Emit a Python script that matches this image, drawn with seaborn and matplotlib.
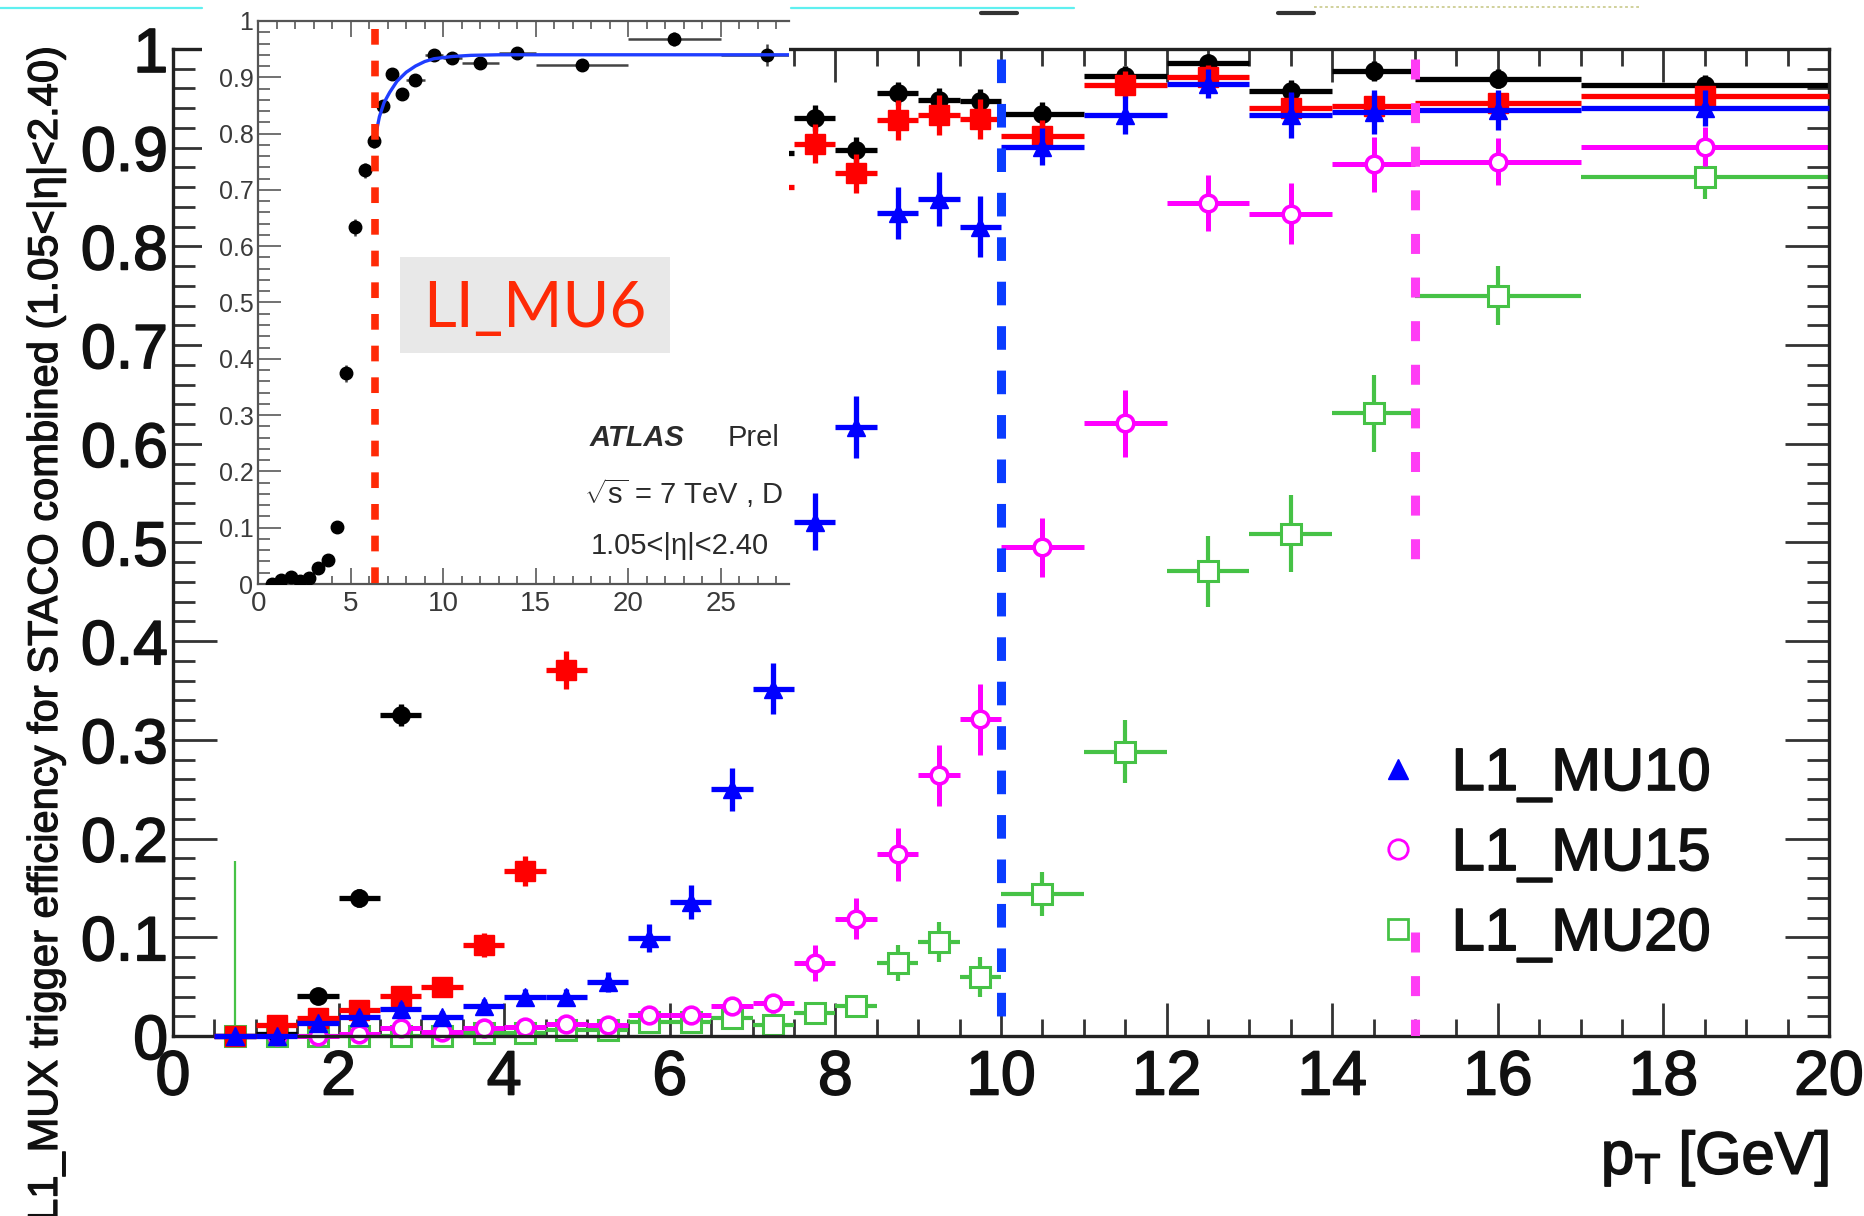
import numpy as np
import pandas as pd
import matplotlib
matplotlib.use("Agg")
import matplotlib.pyplot as plt
import matplotlib.patheffects as pe
import seaborn as sns
from matplotlib.lines import Line2D
from matplotlib.patches import Rectangle
from matplotlib.ticker import MultipleLocator, FuncFormatter

nan = float("nan")

# ---------------- main panel: L1 muon trigger efficiency vs pT ----------------
pt_bin_center = [0.75, 1.25, 1.75, 2.25, 2.75, 3.25, 3.75, 4.25, 4.75, 5.25,
                 5.75, 6.25, 6.75, 7.25, 7.75, 8.25, 8.75, 9.25, 9.75,
                 10.5, 11.5, 12.5, 13.5, 14.5, 16.0, 18.5]
pt_bin_halfwidth = [0.25, 0.25, 0.25, 0.25, 0.25, 0.25, 0.25, 0.25, 0.25, 0.25,
                    0.25, 0.25, 0.25, 0.25, 0.25, 0.25, 0.25, 0.25, 0.25,
                    0.5, 0.5, 0.5, 0.5, 0.5, 1.0, 1.5]

eff_mu0 = [0.000, 0.002, 0.041, 0.140, 0.325, nan, nan, nan, nan, nan,
           nan, nan, nan, 0.895, 0.930, 0.898, 0.955, 0.948, 0.947,
           0.934, 0.973, 0.986, 0.957, 0.978, 0.970, 0.964]
err_mu0 = [0.002, 0.003, 0.006, 0.009, 0.011, nan, nan, nan, nan, nan,
           nan, nan, nan, 0.012, 0.013, 0.013, 0.012, 0.012, 0.012,
           0.012, 0.010, 0.008, 0.012, 0.010, 0.010, 0.010]

eff_mu6 = [0.000, 0.011, 0.018, 0.026, 0.041, 0.050, 0.092, 0.167, 0.371, nan,
           nan, nan, nan, 0.860, 0.904, 0.874, 0.928, 0.933, 0.929,
           0.912, 0.964, 0.972, 0.940, 0.942, 0.945, 0.952]
err_mu6 = [0.002, 0.004, 0.005, 0.006, 0.008, 0.009, 0.012, 0.015, 0.019, nan,
           nan, nan, nan, 0.020, 0.020, 0.020, 0.020, 0.020, 0.020,
           0.016, 0.014, 0.012, 0.015, 0.013, 0.011, 0.010]

eff_mu10 = [0.000, 0.000, 0.013, 0.019, 0.027, 0.019, 0.030, 0.040, 0.040, 0.055,
            0.099, 0.136, 0.250, 0.352, 0.521, 0.617, 0.834, 0.848, 0.820,
            0.901, 0.933, 0.965, 0.933, 0.936, 0.938, 0.940]
err_mu10 = [0.002, 0.002, 0.005, 0.006, 0.007, 0.006, 0.007, 0.008, 0.008, 0.010,
            0.014, 0.017, 0.022, 0.026, 0.029, 0.031, 0.026, 0.027, 0.031,
            0.019, 0.019, 0.015, 0.023, 0.022, 0.020, 0.018]

eff_mu15 = [0.000, 0.000, 0.000, 0.002, 0.008, 0.004, 0.008, 0.009, 0.012, 0.011,
            0.021, 0.021, 0.030, 0.033, 0.074, 0.119, 0.184, 0.264, 0.321,
            0.495, 0.621, 0.844, 0.833, 0.883, 0.886, 0.901]
err_mu15 = [0.001, 0.001, 0.002, 0.003, 0.004, 0.003, 0.004, 0.004, 0.005, 0.005,
            0.007, 0.007, 0.009, 0.010, 0.018, 0.021, 0.027, 0.031, 0.036,
            0.030, 0.034, 0.028, 0.031, 0.028, 0.024, 0.020]

eff_mu20 = [0.000, 0.000, 0.000, 0.000, 0.000, 0.000, 0.003, 0.003, 0.006, 0.006,
            0.0145, 0.0145, 0.018, 0.011, 0.023, 0.030, 0.074, 0.095, 0.060,
            0.144, 0.288, 0.471, 0.509, 0.631, 0.750, 0.870]
err_mu20 = [0.177, 0.002, 0.002, 0.002, 0.002, 0.002, 0.003, 0.003, 0.004, 0.004,
            0.006, 0.006, 0.007, 0.006, 0.008, 0.010, 0.018, 0.020, 0.020,
            0.022, 0.032, 0.036, 0.039, 0.039, 0.030, 0.022]

legend_labels = ["L1_MU10", "L1_MU15", "L1_MU20"]

# threshold markers (GeV) and the efficiency ranges they span
thr_mu10 = 10.0
thr_mu10_spans = [(0.0, 0.99)]
thr_mu15 = 15.0
thr_mu15_spans = [(0.0, 0.105), (0.483, 0.99)]

# ---------------- inset: L1_MU6 turn-on ----------------
inset_pt = [0.75, 1.25, 1.75, 2.25, 2.75, 3.25, 3.75, 4.25, 4.75, 5.25,
            5.75, 6.25, 6.75, 7.25, 7.75, 8.5, 9.5, 10.5, 12.0, 14.0,
            17.5, 22.5, 27.5]
inset_halfwidth = [0.25, 0.25, 0.25, 0.25, 0.25, 0.25, 0.25, 0.25, 0.25, 0.25,
                   0.25, 0.25, 0.25, 0.25, 0.25, 0.5, 0.5, 0.5, 1.0, 1.0,
                   2.5, 2.5, 2.5]
inset_eff = [0.000, 0.007, 0.013, 0.005, 0.010, 0.028, 0.043, 0.102, 0.374, 0.634,
             0.735, 0.787, 0.849, 0.906, 0.871, 0.895, 0.940, 0.935, 0.925, 0.943,
             0.922, 0.968, 0.940]
inset_err = [0.002, 0.003, 0.003, 0.003, 0.003, 0.005, 0.006, 0.009, 0.015, 0.015,
             0.013, 0.012, 0.010, 0.009, 0.009, 0.007, 0.007, 0.007, 0.006, 0.008,
             0.008, 0.012, 0.020]
fit_pt = [6.4, 6.55, 6.8, 7.1, 7.5, 8.0, 8.5, 9.0, 9.5, 10.5, 11.5, 13.0, 28.7]
fit_eff = [0.806, 0.830, 0.855, 0.873, 0.893, 0.909, 0.920, 0.928, 0.933, 0.937,
           0.939, 0.940, 0.940]
thr_mu6 = 6.3

# ---------------- styling ----------------
W, H, DPI = 1864, 1216, 100
BLACK, RED, BLUE, MAGENTA, GREEN = "#000000", "#ff0000", "#0000ff", "#ff00ff", "#46c246"
INK = "#111111"
HEAVY = [pe.withStroke(linewidth=1.2, foreground=INK)]

sns.set_theme(style="ticks")
plt.rcParams.update({
    "font.family": ["Liberation Sans", "DejaVu Sans"],
    "mathtext.fontset": "custom",
    "mathtext.rm": "Liberation Sans",
    "mathtext.it": "Liberation Sans:italic",
    "mathtext.bf": "Liberation Sans:bold",
    "mathtext.sf": "Liberation Sans",
    "lines.scale_dashes": False,
    "figure.facecolor": "white",
    "axes.facecolor": "white",
})


def fx(px):
    return px / W


def fy(py):
    return 1.0 - py / H


fig = plt.figure(figsize=(W / DPI, H / DPI), dpi=DPI)

# main axes
ax = fig.add_axes([fx(173), fy(1036), (1829 - 173) / W, (1036 - 49) / H], zorder=0)
ax.set_xlim(0, 20)
ax.set_ylim(0, 1)

series = [
    (eff_mu20, err_mu20, dict(marker="s", color=GREEN, ms=14, mfc="white", mew=2.2, elw=3.0)),
    (eff_mu15, err_mu15, dict(marker="o", color=MAGENTA, ms=12, mfc="white", mew=2.6, elw=3.6)),
    (eff_mu0, err_mu0, dict(marker="o", color=BLACK, ms=12.5, mfc=BLACK, mew=1, elw=3.8)),
    (eff_mu6, err_mu6, dict(marker="s", color=RED, ms=15, mfc=RED, mew=1, elw=3.8)),
    (eff_mu10, err_mu10, dict(marker="^", color=BLUE, ms=13, mfc=BLUE, mew=1, elw=3.8)),
]

for i, (eff, err, st) in enumerate(series):
    y = np.asarray(eff, dtype=float)
    e = np.asarray(err, dtype=float)
    lo = np.minimum(e, y)
    eb = ax.errorbar(pt_bin_center, y, xerr=pt_bin_halfwidth, yerr=[lo, e],
                     fmt=st["marker"], color=st["color"], ms=st["ms"],
                     mfc=st["mfc"], mec=st["color"], mew=st["mew"],
                     elinewidth=st["elw"], capsize=0, zorder=2 + 0.2 * i)
    for art in [eb[0], *eb[2]]:
        art.set_clip_on(False)
    if st["color"] == GREEN:
        # the empty first bin carries a much thinner error line
        widths = [1.6] + [st["elw"]] * (len(y) - 1)
        eb[2][1].set_linewidths(widths)

for lo_, hi_ in thr_mu10_spans:
    ax.plot([thr_mu10, thr_mu10], [hi_, lo_], color="#0a3cff", lw=6.5,
            ls=(0, (17, 15)), dash_capstyle="butt", zorder=4)
for lo_, hi_ in thr_mu15_spans:
    ax.plot([thr_mu15, thr_mu15], [hi_, lo_], color="#ff3cf5", lw=6.5,
            ls=(0, (14.4, 17)), dash_capstyle="butt", zorder=6)

ax.xaxis.set_major_locator(MultipleLocator(2))
ax.xaxis.set_minor_locator(MultipleLocator(0.5))
ax.yaxis.set_major_locator(MultipleLocator(0.1))
ax.yaxis.set_minor_locator(MultipleLocator(0.02))
fmt_g = FuncFormatter(lambda v, p: f"{v:g}")
ax.xaxis.set_major_formatter(fmt_g)
ax.yaxis.set_major_formatter(fmt_g)
ax.tick_params(axis="both", which="both", direction="in", top=True, right=True,
               color="#333333", labelcolor=INK)
ax.tick_params(axis="x", which="major", length=24, width=2.0, labelsize=45, pad=9)
ax.tick_params(axis="x", which="minor", length=12, width=2.0)
ax.tick_params(axis="y", which="major", length=32, width=2.0, labelsize=45, pad=3.5)
ax.tick_params(axis="y", which="minor", length=16, width=2.0)
for lab in ax.get_xticklabels() + ax.get_yticklabels():
    lab.set_path_effects(HEAVY)
for sp in ax.spines.values():
    sp.set_color("#222222")
    sp.set_linewidth(2.4)
    sp.set_visible(True)

handles = [
    Line2D([], [], ls="none", marker="^", ms=15, color=BLUE),
    Line2D([], [], ls="none", marker="o", ms=14, mfc="white", mec=MAGENTA, mew=2.0),
    Line2D([], [], ls="none", marker="s", ms=15, mfc="white", mec=GREEN, mew=2.0),
]
leg = ax.legend(handles, legend_labels, loc="upper left",
                bbox_to_anchor=((1374 - 173) / 1656, (1036 - 747) / 987),
                frameon=False, fontsize=43, handlelength=0.8, handletextpad=0.5,
                labelspacing=0.42, borderpad=0, borderaxespad=0, numpoints=1)
for t in leg.get_texts():
    t.set_color(INK)
    t.set_path_effects(HEAVY)

fig.text(fx(46), fy(47), "L1_MUX trigger efficiency for STACO combined (1.05<|η|<2.40)",
         rotation=90, ha="center", va="top", fontsize=30, color=INK,
         path_effects=[pe.withStroke(linewidth=0.9, foreground=INK)])
fig.text(fx(1829), fy(1174), r"p$_{\mathrm{T}}$ [GeV]", ha="right", va="baseline",
         fontsize=43, color=INK, path_effects=HEAVY)

# white backdrop behind the inset panel
fig.add_artist(Rectangle((fx(202), fy(615)), (789 - 202) / W, 615 / H,
                         transform=fig.transFigure, facecolor="white",
                         edgecolor="none", zorder=1))

axin = fig.add_axes([fx(258.3), fy(584), (789 - 258.3) / W, (584 - 21) / H], zorder=2)
axin.set_facecolor("white")
axin.set_xlim(0, 28.7)
axin.set_ylim(0, 1)
ebi = axin.errorbar(inset_pt, inset_eff, xerr=inset_halfwidth, yerr=inset_err,
                    fmt="o", color="black", ms=9, ecolor="#444444", elinewidth=1.8,
                    capsize=0, zorder=3)
sns.lineplot(x=fit_pt, y=fit_eff, ax=axin, color="#1f3dff", lw=2.4,
             sort=False, estimator=None, zorder=4)
axin.plot([thr_mu6, thr_mu6], [0.985, 0.0], color="#ff2a06", lw=5.5,
          ls=(0, (11.3, 11.5)), dash_capstyle="butt", zorder=5)

axin.xaxis.set_major_locator(MultipleLocator(5))
axin.xaxis.set_minor_locator(MultipleLocator(1))
axin.yaxis.set_major_locator(MultipleLocator(0.1))
axin.yaxis.set_minor_locator(MultipleLocator(0.02))
axin.xaxis.set_major_formatter(fmt_g)
axin.yaxis.set_major_formatter(fmt_g)
axin.tick_params(axis="both", which="both", direction="in", top=True, right=False,
                 color="#666666", labelcolor="#3a3a3a", width=1.3)
axin.tick_params(axis="x", which="major", length=11.5, labelsize=20, pad=5)
axin.tick_params(axis="x", which="minor", length=5.5)
axin.tick_params(axis="y", which="major", length=16.5, labelsize=18, pad=3.5)
axin.tick_params(axis="y", which="minor", length=8.5)
for name, sp in axin.spines.items():
    sp.set_color("#555555")
    sp.set_linewidth(1.6)
axin.spines["right"].set_visible(False)
axin.set_xlabel("")
axin.set_ylabel("")

txt_kw = dict(transform=axin.transData, clip_on=True, color="#2b2b2b", va="baseline")
axin.text(17.9, 0.245, "ATLAS", fontsize=21, fontweight="bold", fontstyle="italic", **txt_kw)
axin.text(25.4, 0.245, "Prel", fontsize=21, **txt_kw)
axin.text(17.6, 0.142, r"$\sqrt{\mathrm{s}}$ = 7 TeV , D", fontsize=21, **txt_kw)
axin.text(18.0, 0.053, "1.05<|η|<2.40", fontsize=21, **txt_kw)

# trigger label box on top of the inset
fig.add_artist(Rectangle((fx(400), fy(353)), (670 - 400) / W, (353 - 257) / H,
                         transform=fig.transFigure, facecolor="#e8e8e8",
                         edgecolor="none", zorder=3))
fig.text(fx(535), fy(327), "LI_MU6", ha="center", va="baseline", fontsize=46,
         color="#fe2a06", family=["Lato", "DejaVu Sans"], zorder=4)

# thin slide rules along the top edge
for x0, x1 in [(0, 202), (791, 1074)]:
    fig.add_artist(Line2D([fx(x0), fx(x1)], [fy(8), fy(8)], color="#5ff0f0", lw=1.6,
                          transform=fig.transFigure, zorder=5))
for x0, x1 in [(981, 1017), (1278, 1314)]:
    fig.add_artist(Line2D([fx(x0), fx(x1)], [fy(13), fy(13)], color="#333333", lw=3,
                          transform=fig.transFigure, zorder=5))
fig.add_artist(Line2D([fx(1314), fx(1640)], [fy(7), fy(7)], color="#c9c98a", lw=1.2,
                      ls=(0, (2, 2)), transform=fig.transFigure, zorder=5))

fig.savefig("out.png", dpi=DPI, facecolor="white")
